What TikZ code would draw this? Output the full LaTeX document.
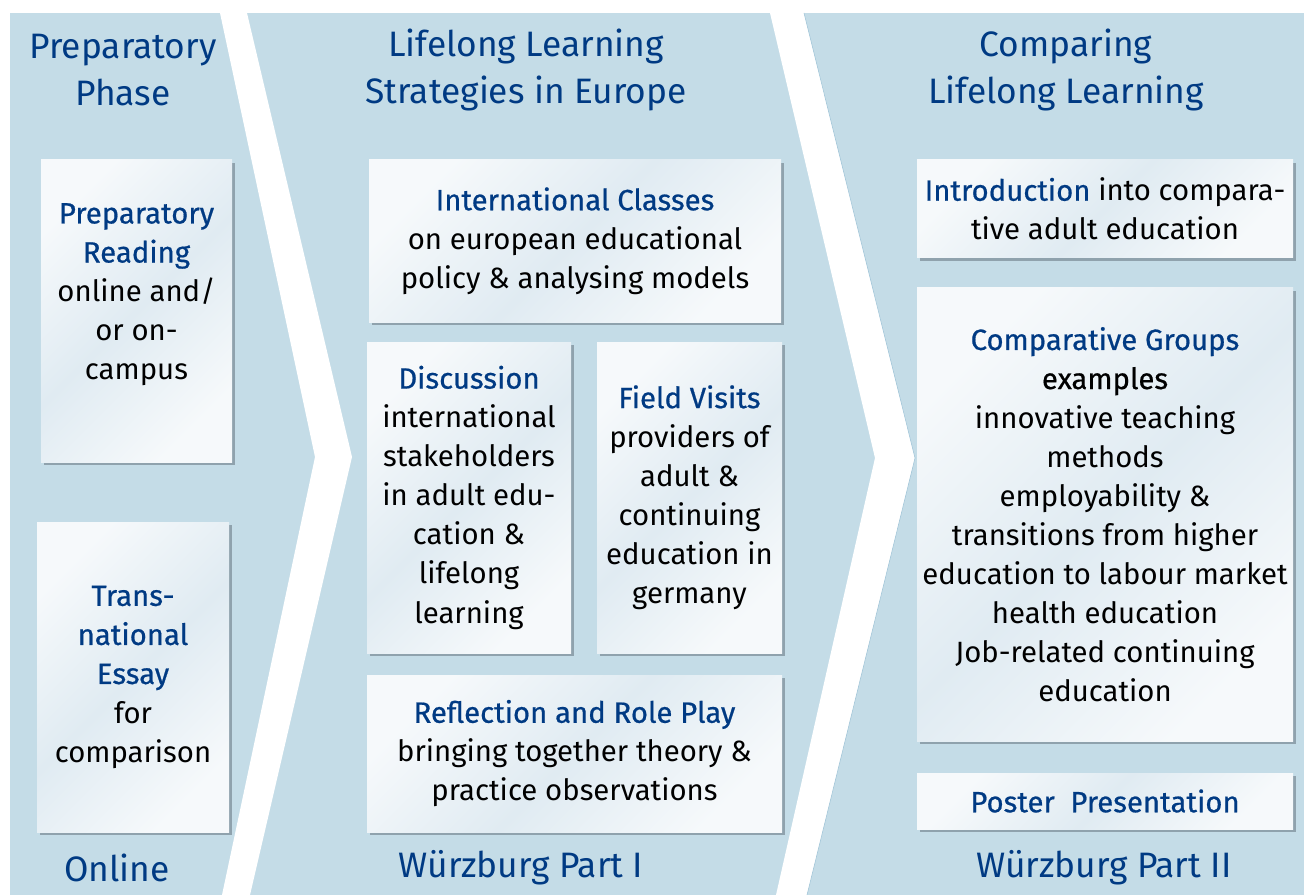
\documentclass[tikz,border=0pt]{standalone}
\usepackage{fontspec}
\setmainfont{Fira Sans}
\newfontfamily\medfont[FakeBold=0.6]{Fira Sans}
\usetikzlibrary{positioning,shadows}

\definecolor{panelblue}{HTML}{C4DCE7}
\definecolor{headblue}{HTML}{003A83}
\definecolor{cardtop}{HTML}{F6F9FB}
\definecolor{cardmid}{HTML}{E0EBF2}
\definecolor{cardshadow}{HTML}{8FA2AD}
\definecolor{edgeblue}{HTML}{9CC2D6}

\newcommand{\hd}[1]{{\medfont\textcolor{headblue}{#1}}}

\begin{document}
\begin{tikzpicture}[x=0.75pt,y=-0.75pt,
	phase/.style={
		text=headblue,
		font=\fontsize{26.5}{35}\selectfont,
		align=center
	},
	card/.style={
		inner sep=0pt,
		align=center,
		font=\fontsize{22}{29.3}\selectfont,
		top color=cardtop, bottom color=cardtop, middle color=cardmid,
		shading angle=45,
		drop shadow={shadow xshift=2.2pt, shadow yshift=-2.4pt,
			fill=cardshadow, opacity=1}
	},
	cardsize/.style 2 args={
		minimum width=#1*0.75pt,
		minimum height=#2*0.75pt
	},
	arrowband/.style={fill=white},
	]

	\useasboundingbox (0,0) rectangle (1304,895);
	\fill[panelblue] (10,13) rectangle (1304,895);

	% the two white chevrons between the phases
	\fill[arrowband] (220,13) -- (247,13) -- (352,457) -- (250,895) -- (222,895) -- (315,457) -- cycle;
	\fill[arrowband] (770,13) -- (804,13) -- (915,458) -- (807,895) -- (776,895) -- (875,458) -- cycle;
	\draw[edgeblue, line width=0.4pt] (804,13) -- (915,458) -- (807,895);

	% phase titles
	\node[phase] (prephead) at (123,70) {Preparatory\\Phase};
	\node[phase] (lllhead) at (526,70) {Lifelong Learning\\Strategies in Europe};
	\node[phase] (comphead) at (1066,70) {Comparing\\Lifelong Learning};

	% preparatory phase
	\node[card, cardsize={191}{302}] (reading) at (136.5,311)
		{\hd{Preparatory}\\\hd{Reading}\\online and/\\or on-\\campus\\[-0.4em]\strut};
	\node[card, cardsize={192}{310}] (essay) at (133,677)
		{\hd{Trans-}\\\hd{national}\\\hd{Essay}\\for\\comparison};

	% first part in Wuerzburg
	\node[card, cardsize={412}{162}] (classes) at (575,241)
		{\hd{International Classes}\\on european educational\\policy \& analysing models};
	\node[card, cardsize={204}{311}] (discussion) at (469,497.5)
		{\hd{Discussion}\\international\\stakeholders\\in adult edu-\\cation \&\\lifelong\\learning};
	\node[card, cardsize={185}{311}] (visits) at (689.5,497.5)
		{\hd{Field Visits}\\providers of\\adult \&\\continuing\\education in\\germany};
	\node[card, cardsize={415}{157}] (reflection) at (574.5,753.5)
		{\hd{Reflection and Role Play}\\bringing together theory \&\\practice observations};

	% second part in Wuerzburg
	\node[card, cardsize={376}{98}] (intro) at (1105,209)
		{\hd{Introduction} into compara-\\tive adult education};
	\node[card, cardsize={376}{453}] (groups) at (1105,514.5)
		{\hd{Comparative Groups}\\{\medfont examples}\\innovative teaching\\methods\\employability \&\\transitions from higher\\education to labour market\\health education\\Job-related continuing\\education};
	\node[card, cardsize={376}{56}] (poster) at (1105,801)
		{\hd{Poster\ \ Presentation}};

	% where it takes place
	\node[phase] (onlinefoot) at (117,868) {Online};
	\node[phase] (partonefoot) at (521,868) {Würzburg Part I};
	\node[phase] (parttwofoot) at (1104,868) {Würzburg Part II};

\end{tikzpicture}
\end{document}
